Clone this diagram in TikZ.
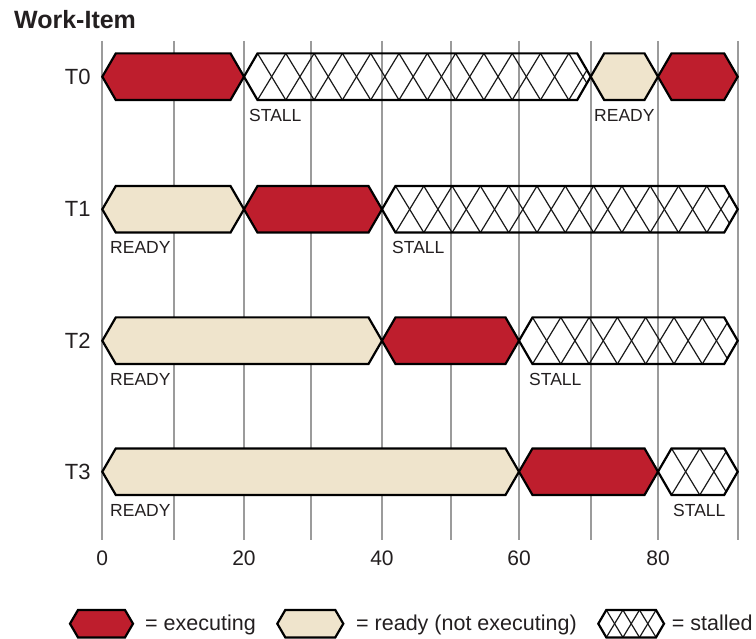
\documentclass[tikz,border=0pt]{standalone}
\usepackage{fontspec}
\setmainfont{Liberation Sans}
\definecolor{execred}{RGB}{190,30,45}
\definecolor{readybeige}{RGB}{239,228,204}
\definecolor{gridgray}{RGB}{155,155,155}
\definecolor{txt}{RGB}{35,31,32}
\tikzset{
  outline/.style={draw=black,line width=2.2pt,line join=miter},
  execfill/.style={outline,fill=execred},
  readyfill/.style={outline,fill=readybeige},
  hatchline/.style={draw=black!90,line width=1.2pt},
  gridline/.style={draw=gridgray,line width=1.8pt},
  rowlabel/.style={font=\fontsize{22}{24}\selectfont,text=txt,inner sep=0pt,anchor=east},
  statelabel/.style={font=\fontsize{17.5}{19}\selectfont,text=txt,inner sep=0pt,anchor=west},
  axislabel/.style={font=\fontsize{21}{24}\selectfont,text=txt,inner sep=0pt,anchor=center},
  legendlabel/.style={font=\fontsize{21.5}{24}\selectfont,text=txt,inner sep=0pt,anchor=base west},
}
% hexagon: #1 style, #2 x1, #3 x2, #4 yc, #5 half height, #6 inset
\newcommand\hexshape[6]{%
  \path[#1] (#2,#4) -- ({#2+#6},{#4-#5}) -- ({#3-#6},{#4-#5}) -- (#3,#4)
    -- ({#3-#6},{#4+#5}) -- ({#2+#6},{#4+#5}) -- cycle;}
% stall: #1 x1, #2 x2, #3 yc, #4 half height, #5 inset, #6 period
\newcommand\stallshape[6]{%
  \begin{scope}
    \clip (#1,#3) -- ({#1+#5},{#3-#4}) -- ({#2-#5},{#3-#4}) -- (#2,#3)
      -- ({#2-#5},{#3+#4}) -- ({#1+#5},{#3+#4}) -- cycle;
    \pgfmathtruncatemacro\nper{(#2-#1)/#6+2}
    \foreach \ii in {-1,...,\nper}{
      \draw[hatchline] ({#1+#5+\ii*#6},{#3-#4}) -- ({#1+#5+(\ii+1)*#6},{#3+#4});
      \draw[hatchline] ({#1+#5+(\ii+1)*#6},{#3-#4}) -- ({#1+#5+\ii*#6},{#3+#4});
    }
  \end{scope}
  \hexshape{outline}{#1}{#2}{#3}{#4}{#5}}
\begin{document}
\begin{tikzpicture}[x=1pt,y=-1pt]
\useasboundingbox (0,0) rectangle (756,639);
% grid x positions
\def\Ga{102.3}\def\Gb{173.7}\def\Gc{244}\def\Gd{311}\def\Ge{382}
\def\Gf{450.7}\def\Gg{519}\def\Gh{590.7}\def\Gi{658}\def\Gj{737.7}
\foreach \gx in {\Ga,\Gb,\Gc,\Gd,\Ge,\Gf,\Gg,\Gh,\Gi,\Gj}
  \draw[gridline] (\gx,41) -- (\gx,540);
\def\hh{23.3}\def\ins{13.5}\def\per{28.3}
% T0
\def\yc{76.7}
\hexshape{execfill}{\Ga}{\Gc}{\yc}{\hh}{\ins}
\stallshape{\Gc}{\Gh}{\yc}{\hh}{\ins}{\per}
\hexshape{readyfill}{\Gh}{\Gi}{\yc}{\hh}{\ins}
\hexshape{execfill}{\Gi}{\Gj}{\yc}{\hh}{\ins}
% T1
\def\yc{209.3}
\hexshape{readyfill}{\Ga}{\Gc}{\yc}{\hh}{\ins}
\hexshape{execfill}{\Gc}{\Ge}{\yc}{\hh}{\ins}
\stallshape{\Ge}{\Gj}{\yc}{\hh}{\ins}{\per}
% T2
\def\yc{340.7}
\hexshape{readyfill}{\Ga}{\Ge}{\yc}{\hh}{\ins}
\hexshape{execfill}{\Ge}{\Gg}{\yc}{\hh}{\ins}
\stallshape{\Gg}{\Gj}{\yc}{\hh}{\ins}{\per}
% T3
\def\yc{471.7}
\hexshape{readyfill}{\Ga}{\Gg}{\yc}{\hh}{\ins}
\hexshape{execfill}{\Gg}{\Gi}{\yc}{\hh}{\ins}
\stallshape{\Gi}{\Gj}{\yc}{\hh}{\ins}{\per}
% title and row labels
\node[font=\fontsize{25}{28}\selectfont\bfseries,text=txt,inner sep=0pt,anchor=west] (title) at (14,20) {Work-Item};
\node[rowlabel] (t0) at (90.7,76.7) {T0};
\node[rowlabel] (t1) at (90.7,209.3) {T1};
\node[rowlabel] (t2) at (90.7,340.7) {T2};
\node[rowlabel] (t3) at (90.7,471.7) {T3};
% state labels
\node[statelabel] (s0a) at (249,115) {STALL};
\node[statelabel] (s0b) at (594,115) {READY};
\node[statelabel] (s1a) at (110,247) {READY};
\node[statelabel] (s1b) at (392,247) {STALL};
\node[statelabel] (s2a) at (110,379) {READY};
\node[statelabel] (s2b) at (529,379) {STALL};
\node[statelabel] (s3a) at (110,510) {READY};
\node[statelabel] (s3b) at (673,510) {STALL};
% axis labels
\node[axislabel] (a0) at (\Ga,558) {0};
\node[axislabel] (a20) at (\Gc,558) {20};
\node[axislabel] (a40) at (\Ge,558) {40};
\node[axislabel] (a60) at (\Gg,558) {60};
\node[axislabel] (a80) at (\Gi,558) {80};
% legend
\hexshape{execfill}{70}{133}{623.7}{13.7}{8}
\hexshape{readyfill}{277.3}{343.3}{623.7}{13.7}{8}
\stallshape{598.3}{664}{623.7}{13.7}{8}{16.6}
\node[legendlabel] (l1) at (145,630) {= executing};
\node[legendlabel] (l2) at (356,630) {= ready (not executing)};
\node[legendlabel] (l3) at (671.7,630) {= stalled};
\end{tikzpicture}
\end{document}
